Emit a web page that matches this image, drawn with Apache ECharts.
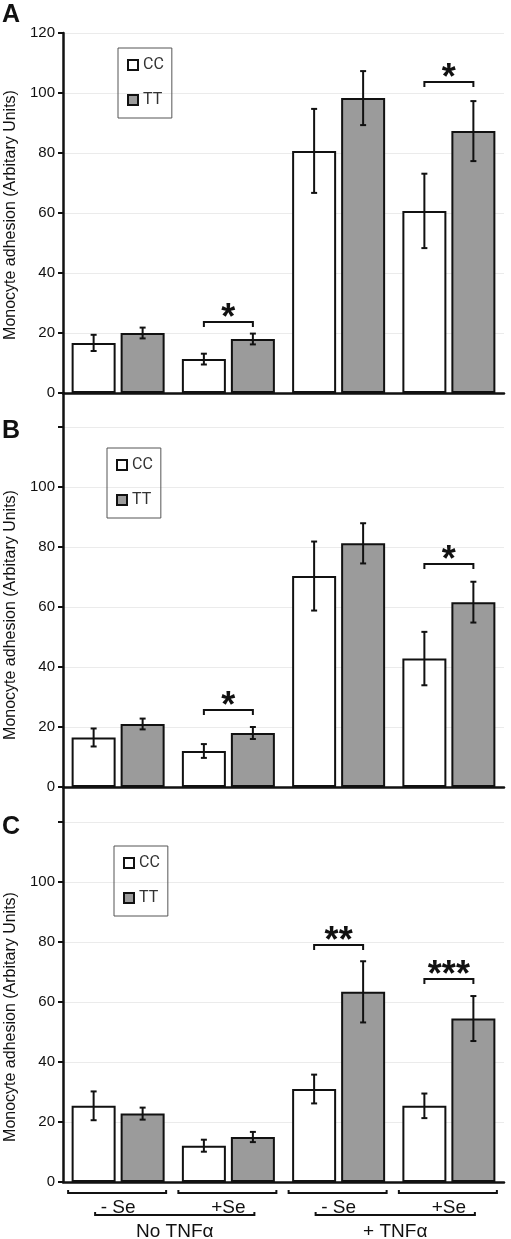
<!DOCTYPE html>
<html><head><meta charset="utf-8">
<script src="https://cdn.jsdelivr.net/npm/echarts@6/dist/echarts.min.js"></script>
<style>html,body{margin:0;padding:0;background:#fff}#c{width:511px;height:1239px}</style>
</head><body><div id="c"></div>
<script>
// ---- data ----
const categories = ['- Se', '+Se', '- Se', '+Se'];
const treatmentGroups = [[0, 1, 'No TNF\u03b1'], [2, 3, '+ TNF\u03b1']];
const panelLetters = ['A', 'B', 'C'];
const yAxisTitle = 'Monocyte adhesion (Arbitary Units)';
const seriesNames = ['CC', 'TT'];
const yMax = [120, 131.3, 131.7];
const yInterval = 20;

const A_CC = [16.7, 11.3, 80.7, 60.7];
const A_CC_err = [2.7, 1.8, 14, 12.4];
const A_TT = [20, 18, 98.3, 87.3];
const A_TT_err = [1.8, 1.8, 9, 10];

const B_CC = [16.5, 12, 70.3, 42.8];
const B_CC_err = [3, 2.3, 11.5, 8.9];
const B_TT = [21, 18, 81.2, 61.6];
const B_TT_err = [1.8, 2, 6.7, 6.8];

const C_CC = [25.4, 12.1, 31, 25.4];
const C_CC_err = [4.8, 2, 4.8, 4.1];
const C_TT = [22.8, 15, 63.4, 54.5];
const C_TT_err = [2, 1.7, 10.2, 7.5];

// significance: [category index, bracket height, stars]
const A_sig = [[1, 23.7, '*'], [3, 103.7, '*']];
const B_sig = [[1, 25.7, '*'], [3, 74.3, '*']];
const C_sig = [[2, 79, '**'], [3, 67.7, '***']];

const panels = [
  {cc: A_CC, ccErr: A_CC_err, tt: A_TT, ttErr: A_TT_err, sig: A_sig},
  {cc: B_CC, ccErr: B_CC_err, tt: B_TT, ttErr: B_TT_err, sig: B_sig},
  {cc: C_CC, ccErr: C_CC_err, tt: C_TT, ttErr: C_TT_err, sig: C_sig}
];

// ---- layout / style ----
const BAR_W = 44, BAR_GAP = 5, BAR_OFFSET = (BAR_W + BAR_GAP) / 2;
const INK = '#111';
const GREY = '#9b9b9b';
const FONT = '"Liberation Sans", Arial, sans-serif';
const grids = [
  {left: 63, right: 7, top: 33, height: 360},
  {left: 63, right: 7, top: 393, height: 394},
  {left: 63, right: 7, top: 787, height: 395}
];
const legendPos = [{left: 118, top: 48}, {left: 107, top: 448}, {left: 114, top: 846}];
const letterY = [16, 432, 828];
const titleY = [215, 615, 1017];

function errorSeries(g, vals, errs, side) {
  return {
    type: 'custom', xAxisIndex: g, yAxisIndex: g, z: 5, silent: true,
    data: vals.map((v, i) => [i, v - errs[i], v + errs[i]]),
    encode: {x: 0, y: [1, 2]},
    renderItem: (params, api) => {
      const lo = api.coord([api.value(0), api.value(1)]);
      const hi = api.coord([api.value(0), api.value(2)]);
      const x = lo[0] + side * BAR_OFFSET;
      const cap = 3;
      const st = {stroke: INK, lineWidth: 2};
      return {type: 'group', children: [
        {type: 'line', shape: {x1: x, y1: lo[1], x2: x, y2: hi[1]}, style: st},
        {type: 'line', shape: {x1: x - cap, y1: lo[1], x2: x + cap, y2: lo[1]}, style: st},
        {type: 'line', shape: {x1: x - cap, y1: hi[1], x2: x + cap, y2: hi[1]}, style: st}
      ]};
    }
  };
}

function sigSeries(g, sigs) {
  return {
    type: 'custom', xAxisIndex: g, yAxisIndex: g, z: 5, clip: false, silent: true,
    data: sigs.map(s => [s[0], s[1]]),
    encode: {x: 0, y: 1},
    renderItem: (params, api) => {
      const p = api.coord([api.value(0), api.value(1)]);
      const xl = p[0] - BAR_OFFSET, xr = p[0] + BAR_OFFSET, y = p[1];
      return {type: 'group', children: [
        {type: 'polyline', shape: {points: [[xl, y + 5], [xl, y], [xr, y], [xr, y + 5]]},
         style: {stroke: INK, lineWidth: 2, fill: null}},
        {type: 'text', x: p[0], y: y - 3,
         style: {text: sigs[params.dataIndex][2], fill: INK, font: 'bold 36px ' + FONT,
                 align: 'center', verticalAlign: 'middle'}}
      ]};
    }
  };
}

const series = [];
panels.forEach((p, g) => {
  series.push({type: 'bar', name: seriesNames[0], xAxisIndex: g, yAxisIndex: g, data: p.cc,
    barWidth: BAR_W, barGap: (BAR_GAP / BAR_W * 100) + '%',
    itemStyle: {color: '#fff', borderColor: INK, borderWidth: 2}});
  series.push({type: 'bar', name: seriesNames[1], xAxisIndex: g, yAxisIndex: g, data: p.tt,
    barWidth: BAR_W, barGap: (BAR_GAP / BAR_W * 100) + '%',
    itemStyle: {color: GREY, borderColor: INK, borderWidth: 2}});
  series.push(errorSeries(g, p.cc, p.ccErr, -1));
  series.push(errorSeries(g, p.tt, p.ttErr, 1));
  series.push(sigSeries(g, p.sig));
});

// bottom brackets under each category (panel C)
series.push({
  type: 'custom', xAxisIndex: 2, yAxisIndex: 2, clip: false, silent: true, z: 5,
  data: categories.map((c, i) => [i, 0]),
  encode: {x: 0, y: 1},
  renderItem: (params, api) => {
    const p = api.coord([api.value(0), 0]);
    const y = p[1] + 11;
    return {type: 'polyline', shape: {points: [[p[0] - 50, y - 3], [p[0] - 50, y], [p[0] + 48, y], [p[0] + 48, y - 3]]},
      style: {stroke: INK, lineWidth: 2, fill: null}};
  }
});
// treatment brackets + labels
series.push({
  type: 'custom', xAxisIndex: 2, yAxisIndex: 2, clip: false, silent: true, z: 5,
  data: treatmentGroups.map(t => [t[0], t[1]]),
  renderItem: (params, api) => {
    const p0 = api.coord([api.value(0), 0]);
    const p1 = api.coord([api.value(1), 0]);
    const y = p0[1] + 33;
    const xl = p0[0] - 23, xr = p1[0] + 26;
    return {type: 'group', children: [
      {type: 'polyline', shape: {points: [[xl, y - 3], [xl, y], [xr, y], [xr, y - 3]]},
       style: {stroke: INK, lineWidth: 2, fill: null}},
      {type: 'text', x: (xl + xr) / 2, y: y + 17,
       style: {text: treatmentGroups[params.dataIndex][2], fill: INK, font: '19px ' + FONT,
               align: 'center', verticalAlign: 'middle'}}
    ]};
  }
});

const xAxis = grids.map((gr, g) => ({
  type: 'category', gridIndex: g, data: categories,
  axisLine: {show: true, onZero: false, lineStyle: {color: INK, width: 2.5}},
  axisTick: {show: false},
  axisLabel: {show: g === 2, margin: 16, fontSize: 19, color: INK, fontFamily: FONT},
  splitLine: {show: false}
}));

const yAxis = grids.map((gr, g) => ({
  type: 'value', gridIndex: g, min: 0, max: yMax[g], interval: yInterval,
  axisLine: {show: true, lineStyle: {color: INK, width: 2.5}},
  axisTick: {show: true, length: 5, lineStyle: {color: INK, width: 2}},
  axisLabel: {fontSize: 15, color: INK, margin: 8, fontFamily: FONT, showMaxLabel: g === 0,
    formatter: v => (g === 0 || v <= 100) ? String(v) : ''},
  splitLine: {show: true, showMaxLine: g === 0, lineStyle: {color: '#ebebeb', width: 1}}
}));

const legend = legendPos.map(lp => ({
  left: lp.left, top: lp.top, orient: 'vertical', data: seriesNames, icon: 'rect',
  itemWidth: 10, itemHeight: 10, itemGap: 19, itemTextGap: 5, padding: [9, 8, 10, 9],
  borderColor: '#555', borderWidth: 1, borderRadius: 0, selectedMode: false,
  textStyle: {fontSize: 16, color: '#333', fontFamily: 'Roboto, sans-serif'}
}));

const graphic = [];
panelLetters.forEach((L, g) => {
  graphic.push({type: 'text', left: 2, top: letterY[g] - 13,
    style: {text: L, font: 'bold 25px ' + FONT, fill: INK}});
  graphic.push({type: 'text', x: 11, y: titleY[g], rotation: Math.PI / 2,
    style: {text: yAxisTitle, font: '16px ' + FONT, fill: INK, align: 'center', verticalAlign: 'middle'}});
});

const chart = echarts.init(document.getElementById('c'));
chart.setOption({
  animation: false,
  backgroundColor: '#fff',
  grid: grids, xAxis, yAxis, legend, series, graphic
});
</script></body></html>
